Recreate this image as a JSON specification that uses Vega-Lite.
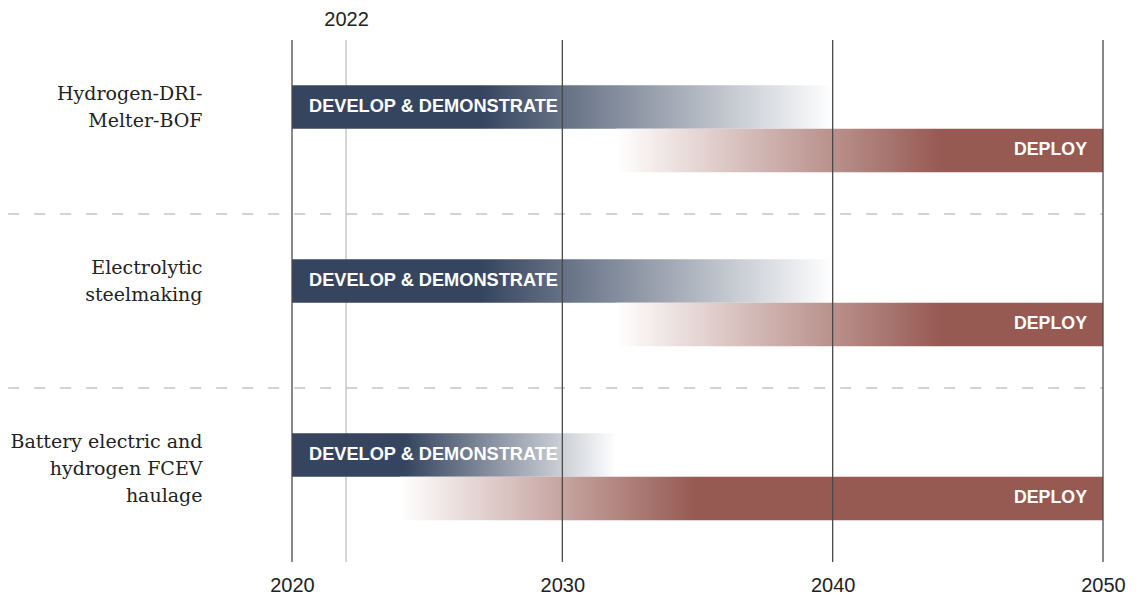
{
  "$schema": "https://vega.github.io/schema/vega-lite/v6.json",
  "width": 811,
  "height": 522,
  "autosize": {"type": "none"},
  "padding": {"left": 292, "top": 40, "right": 33, "bottom": 34},
  "background": "white",
  "config": {
    "view": {"stroke": null},
    "axis": {"grid": false, "domain": false, "ticks": false, "title": null, "labelFont": "Liberation Sans", "labelFontSize": 20, "labelColor": "#222222"}
  },
  "datasets": {
    "phases": [
      {"technology": "Hydrogen-DRI-\nMelter-BOF", "phase": "Develop & demonstrate", "label": "DEVELOP & DEMONSTRATE", "start": 2020, "end": 2040},
      {"technology": "Hydrogen-DRI-\nMelter-BOF", "phase": "Deploy", "label": "DEPLOY", "start": 2032, "end": 2050},
      {"technology": "Electrolytic\nsteelmaking", "phase": "Develop & demonstrate", "label": "DEVELOP & DEMONSTRATE", "start": 2020, "end": 2040},
      {"technology": "Electrolytic\nsteelmaking", "phase": "Deploy", "label": "DEPLOY", "start": 2032, "end": 2050},
      {"technology": "Battery electric and\nhydrogen FCEV\nhaulage", "phase": "Develop & demonstrate", "label": "DEVELOP & DEMONSTRATE", "start": 2020, "end": 2032},
      {"technology": "Battery electric and\nhydrogen FCEV\nhaulage", "phase": "Deploy", "label": "DEPLOY", "start": 2024, "end": 2050}
    ],
    "separators": [
      {"technology": "Electrolytic\nsteelmaking"},
      {"technology": "Battery electric and\nhydrogen FCEV\nhaulage"}
    ],
    "decades": [{"year": 2020}, {"year": 2030}, {"year": 2040}, {"year": 2050}],
    "milestone": [{"year": 2022}]
  },
  "layer": [
    {
      "data": {"name": "milestone"},
      "mark": {"type": "rule", "stroke": "#c8c8c8", "strokeWidth": 1.5},
      "encoding": {
        "x": {"field": "year", "type": "quantitative", "scale": {"domain": [2020, 2050], "nice": false, "zero": false},
              "axis": {"orient": "top", "values": [2022], "format": "d", "labelPadding": 11, "labelFlush": false}}
      }
    },
    {
      "data": {"name": "separators"},
      "mark": {"type": "rule", "stroke": "#c4c4c4", "strokeWidth": 1.3, "strokeDash": [11, 15]},
      "encoding": {
        "y": {"field": "technology", "type": "nominal", "bandPosition": 0},
        "x": {"datum": 2009.5, "type": "quantitative", "axis": null},
        "x2": {"datum": 2050}
      }
    },
    {
      "data": {"name": "phases"},
      "transform": [{"filter": "datum.phase == 'Develop & demonstrate'"}],
      "mark": {"type": "bar", "color": {"gradient": "linear", "x1": 0, "y1": 0, "x2": 1, "y2": 0,
        "stops": [{"offset": 0, "color": "#36455F"}, {"offset": 0.35, "color": "#36455F"}, {"offset": 1, "color": "#ffffff"}]}},
      "encoding": {
        "y": {"field": "technology", "type": "nominal",
              "scale": {"domain": ["Hydrogen-DRI-\nMelter-BOF", "Electrolytic\nsteelmaking", "Battery electric and\nhydrogen FCEV\nhaulage"], "paddingInner": 0, "paddingOuter": 0},
              "axis": {"labelExpr": "split(datum.label, '\\n')", "labelFont": "DejaVu Serif", "labelFontSize": 19, "labelLineHeight": 27, "labelPadding": 90, "labelBaseline": "top", "labelOffset": -42, "labelAlign": "right", "labelColor": "#222222", "labelLimit": 300}},
        "yOffset": {"field": "phase", "type": "nominal", "scale": {"domain": ["Develop & demonstrate", "Deploy"], "paddingInner": 0, "paddingOuter": 1, "align": 0.52}},
        "x": {"field": "start", "type": "quantitative", "axis": null},
        "x2": {"field": "end"}
      }
    },
    {
      "data": {"name": "phases"},
      "transform": [{"filter": "datum.phase == 'Deploy' && datum.start >= 2030"}],
      "mark": {"type": "bar", "color": {"gradient": "linear", "x1": 0, "y1": 0, "x2": 1, "y2": 0,
        "stops": [{"offset": 0, "color": "#ffffff"}, {"offset": 0.665, "color": "#975A53"}, {"offset": 1, "color": "#975A53"}]}},
      "encoding": {
        "y": {"field": "technology", "type": "nominal"},
        "yOffset": {"field": "phase", "type": "nominal"},
        "x": {"field": "start", "type": "quantitative", "axis": null},
        "x2": {"field": "end"}
      }
    },
    {
      "data": {"name": "phases"},
      "transform": [{"filter": "datum.phase == 'Deploy' && datum.start < 2030"}],
      "mark": {"type": "bar", "color": {"gradient": "linear", "x1": 0, "y1": 0, "x2": 1, "y2": 0,
        "stops": [{"offset": 0, "color": "#ffffff"}, {"offset": 0.42, "color": "#975A53"}, {"offset": 1, "color": "#975A53"}]}},
      "encoding": {
        "y": {"field": "technology", "type": "nominal"},
        "yOffset": {"field": "phase", "type": "nominal"},
        "x": {"field": "start", "type": "quantitative", "axis": null},
        "x2": {"field": "end"}
      }
    },
    {
      "data": {"name": "decades"},
      "mark": {"type": "rule", "stroke": "#4a4a4a", "strokeWidth": 1.3},
      "encoding": {
        "x": {"field": "year", "type": "quantitative",
              "axis": {"orient": "bottom", "values": [2020, 2030, 2040, 2050], "format": "d", "labelPadding": 13, "labelFlush": false}}
      }
    },
    {
      "data": {"name": "phases"},
      "transform": [{"filter": "datum.phase == 'Develop & demonstrate'"}],
      "mark": {"type": "text", "align": "left", "baseline": "middle", "dx": 17, "font": "Liberation Sans", "fontWeight": "bold", "fontSize": 18.2, "color": "#ffffff"},
      "encoding": {
        "y": {"field": "technology", "type": "nominal"},
        "yOffset": {"field": "phase", "type": "nominal"},
        "x": {"field": "start", "type": "quantitative", "axis": null},
        "text": {"field": "label"}
      }
    },
    {
      "data": {"name": "phases"},
      "transform": [{"filter": "datum.phase == 'Deploy'"}],
      "mark": {"type": "text", "align": "right", "baseline": "middle", "dx": -16, "font": "Liberation Sans", "fontWeight": "bold", "fontSize": 17.8, "color": "#ffffff"},
      "encoding": {
        "y": {"field": "technology", "type": "nominal"},
        "yOffset": {"field": "phase", "type": "nominal"},
        "x": {"field": "end", "type": "quantitative", "axis": null},
        "text": {"field": "label"}
      }
    }
  ],
  "resolve": {"axis": {"x": "independent"}}
}
